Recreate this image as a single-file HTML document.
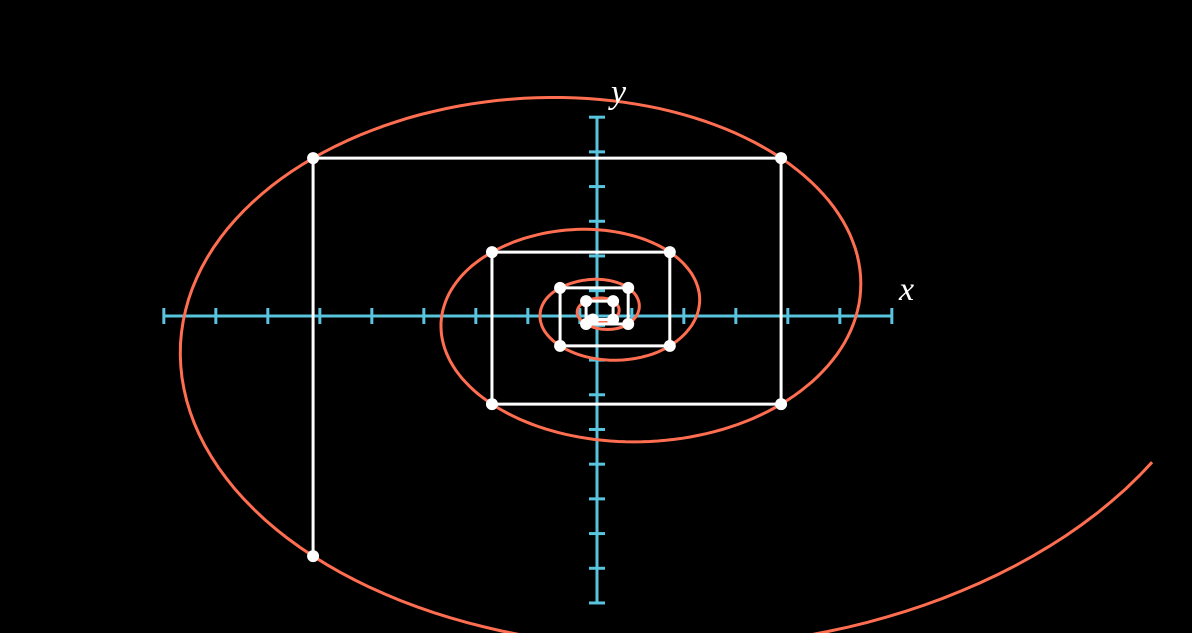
<!DOCTYPE html>
<html><head><meta charset="utf-8"><style>
html,body{margin:0;padding:0;background:#000;width:1192px;height:633px;overflow:hidden}
svg{display:block}
</style></head><body>
<svg id="chart" width="1192" height="633" viewBox="0 0 1192 633" xmlns="http://www.w3.org/2000/svg">
<g id="axes"></g>
<path id="spiral" fill="none" stroke="#FF6E50" stroke-width="3"></path>
<polyline id="path" fill="none" stroke="#fff" stroke-width="3"></polyline>
<g id="dots"></g>
<text x="899" y="300" fill="#fff" font-family="Liberation Serif, serif" font-style="italic" font-size="34">x</text>
<text x="611" y="103" fill="#fff" font-family="Liberation Serif, serif" font-style="italic" font-size="34">y</text>
</svg>
<script>
// iterates (data units)
const ptX = [8.38, 8.38, -5.46, -5.46, 3.54, 3.54, -2.02, -2.02, 1.40, 1.40, -0.71, -0.71, 0.60, 0.60, -0.21, -0.21, 0.31, 0.31, -0.08];
const ptY = [10.75, -6.92, -6.92, 4.55, 4.55, -2.54, -2.54, 1.84, 1.84, -0.86, -0.86, 0.81, 0.81, -0.23, -0.23, 0.43, 0.43, -0.1, -0.1];
const firstVisible = 2;
const xTicks = [-8.33,-7.33,-6.33,-5.33,-4.33,-3.33,-2.33,-1.33,-0.33,0.67,1.67,2.67,3.67,4.67,5.67];
const yTicks = [5.73,4.73,3.73,2.73,1.73,0.73,-0.27,-1.27,-2.27,-3.27,-4.27,-5.27,-6.27,-7.27,-8.27];

const X0 = 597, Y0 = 316, UX = 52, UY = 34.7;
const sx = v => X0 + v * UX;
const sy = v => Y0 - v * UY;
const NS = 'http://www.w3.org/2000/svg';
const axes = document.getElementById('axes');
const blue = '#58C4DD';
function line(x1,y1,x2,y2,name){
  const l = document.createElementNS(NS,'line');
  l.setAttribute('x1',x1);l.setAttribute('y1',y1);l.setAttribute('x2',x2);l.setAttribute('y2',y2);
  l.setAttribute('stroke',blue);l.setAttribute('stroke-width',3);
  
  
  axes.appendChild(l); return l;
}
line(sx(xTicks[0]), Y0, sx(xTicks[xTicks.length-1]), Y0, 'x-axis');
line(X0, sy(yTicks[0]), X0, sy(yTicks[yTicks.length-1]), 'y-axis');
xTicks.forEach(t => line(sx(t), Y0-8, sx(t), Y0+8, 'x-tick'));
yTicks.forEach(t => line(X0-8, sy(t), X0+8, sy(t), 'y-tick'));

const pts = ptX.map((x,i)=>[sx(x), sy(ptY[i])]);
const vis = pts.slice(firstVisible);
document.getElementById('path').setAttribute('points', vis.map(p=>p.join(',')).join(' '));
const dots = document.getElementById('dots');
vis.forEach(p=>{
  const c = document.createElementNS(NS,'circle');
  c.setAttribute('cx',p[0]);c.setAttribute('cy',p[1]);c.setAttribute('r',6);c.setAttribute('fill','#fff');
  
  
  dots.appendChild(c);
});

// spiral: Catmull-Rom in log-polar around center, in horizontally scaled space
const CX = 597, CY = 314, SC = 1.55, START_T = 0.78;
let prev = null; const lp = [];
pts.forEach(p=>{
  const u=(p[0]-CX)/SC, v=-(p[1]-CY);
  let th = Math.atan2(v,u);
  if (prev !== null) { while (th > prev) th -= 2*Math.PI; while (th < prev - 2*Math.PI) th += 2*Math.PI; }
  prev = th;
  lp.push([th, Math.log(Math.hypot(u,v))]);
});
const ext = [[2*lp[0][0]-lp[1][0], 2*lp[0][1]-lp[1][1]], ...lp, [2*lp[lp.length-1][0]-lp[lp.length-2][0], 2*lp[lp.length-1][1]-lp[lp.length-2][1]]];
let d = '';
for (let i=1;i<ext.length-2;i++){
  const P0=ext[i-1],P1=ext[i],P2=ext[i+1],P3=ext[i+2];
  for (let s=0;s<=40;s++){
    const t=s/40;
    if (i===1 && t<START_T) continue;
    const t2=t*t,t3=t2*t;
    const f=k=>0.5*((2*P1[k])+(-P0[k]+P2[k])*t+(2*P0[k]-5*P1[k]+4*P2[k]-P3[k])*t2+(-P0[k]+3*P1[k]-3*P2[k]+P3[k])*t3);
    const th=f(0), r=Math.exp(f(1));
    d += (d?'L':'M') + (CX + SC*r*Math.cos(th)).toFixed(1) + ',' + (CY - r*Math.sin(th)).toFixed(1);
  }
}
document.getElementById('spiral').setAttribute('d', d);
</script>
</body></html>
